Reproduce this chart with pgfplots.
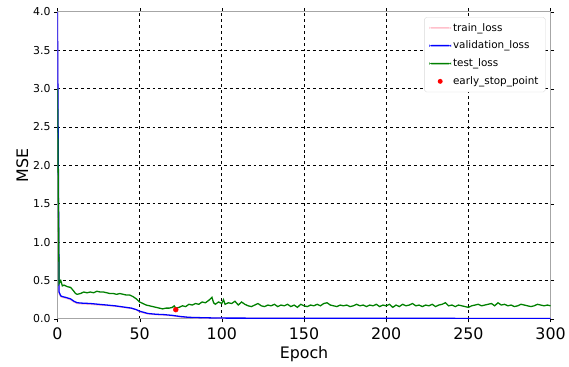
\documentclass[border=0pt]{standalone}
\usepackage{pgfplots}
\pgfplotsset{compat=1.18}
\usepackage{fontspec}
\setmainfont{DejaVu Sans}
\definecolor{mplgreen}{RGB}{0,128,0}
\definecolor{mplpink}{RGB}{255,192,203}
\begin{document}
\begin{tikzpicture}
\begin{axis}[
  scale only axis,
  width=498pt, height=310pt,
  xmin=0, xmax=300, ymin=0, ymax=4,
  xtick={0,50,...,300},
  ytick={0,0.5,...,4},
  yticklabel style={/pgf/number format/fixed,/pgf/number format/fixed zerofill,/pgf/number format/precision=1,font=\fontsize{11}{13}\selectfont},
  xticklabel style={font=\fontsize{16}{18}\selectfont, yshift=-2pt},
  /pgf/number format/assume math mode=true,
  xlabel={Epoch}, ylabel={MSE},
  xlabel style={font=\fontsize{16}{18}\selectfont, yshift=0pt},
  ylabel style={font=\fontsize{16}{18}\selectfont, yshift=-2pt},
  grid=major,
  major grid style={dashed, black, line width=0.8pt},
  axis line style={gray!70, line width=0.8pt},
  tick align=outside, major tick length=3.5pt,
  tick style={black},
  legend style={font=\fontsize{10.5}{12}\selectfont, draw=gray!30, rounded corners=2pt, fill=white, at={(0.99,0.983)}, anchor=north east, row sep=4.5pt, inner xsep=5pt, inner ysep=4pt},
  legend cell align=left,
]
\addlegendimage{legend image code/.code={\path[fill=mplpink, draw=none] (0pt,-0.75pt) rectangle (22pt,0.75pt);}}
\addlegendentry{train\_loss}
\addlegendimage{legend image code/.code={\path[fill=blue, draw=none] (0pt,-0.75pt) rectangle (22pt,0.75pt);}}
\addlegendentry{validation\_loss}
\addlegendimage{legend image code/.code={\path[fill=mplgreen, draw=none] (0pt,-0.75pt) rectangle (22pt,0.75pt);}}
\addlegendentry{test\_loss}
\addlegendimage{legend image code/.code={\path[fill=red, draw=none] (11pt,0pt) circle (2.5pt);}}
\addlegendentry{early\_stop\_point}
\addplot[mplpink, line width=1.3pt, forget plot] coordinates {
(0,4.0)(1,0.33)(2,0.29)(3,0.28)(5,0.27)(8,0.25)(10,0.22)(12,0.20)(15,0.195)(20,0.19)(25,0.18)(30,0.175)(35,0.165)(40,0.15)(45,0.135)(48,0.12)(50,0.09)(55,0.065)(60,0.055)(65,0.05)(70,0.04)(75,0.025)(80,0.018)(90,0.012)(100,0.009)(150,0.006)(200,0.005)(250,0.004)(300,0.004)};
\addplot[blue, line width=1.3pt, forget plot] coordinates {
(0,4.0)(1,0.35)(2,0.30)(3,0.29)(5,0.28)(8,0.26)(10,0.23)(12,0.21)(15,0.205)(20,0.20)(25,0.19)(30,0.18)(35,0.17)(40,0.155)(45,0.14)(48,0.12)(50,0.10)(55,0.07)(60,0.06)(65,0.055)(70,0.045)(75,0.03)(80,0.02)(90,0.014)(100,0.01)(150,0.008)(200,0.007)(250,0.006)(300,0.005)};
\addplot[mplgreen, line width=1.3pt, forget plot] coordinates {
(0,3.0)(1,0.46)(2,0.50)(3,0.43)(4,0.44)(6,0.42)(8,0.41)(10,0.36)(11,0.33)(12,0.32)(14,0.33)(16,0.35)(18,0.34)(20,0.35)(22,0.34)(24,0.36)(26,0.35)(28,0.35)(30,0.34)(32,0.33)(34,0.33)(36,0.32)(38,0.33)(40,0.32)(42,0.31)(44,0.31)(46,0.29)(48,0.26)(50,0.22)(52,0.20)(54,0.18)(56,0.17)(58,0.16)(60,0.15)(62,0.14)(64,0.13)(66,0.14)(68,0.14)(70,0.15)(71,0.17)(72,0.14)(74,0.15)(76,0.17)(78,0.16)(80,0.19)(82,0.18)(84,0.20)(86,0.19)(88,0.22)(90,0.21)(92,0.24)(94,0.28)(95,0.21)(96,0.19)(98,0.22)(100,0.20)(101,0.25)(102,0.19)(104,0.21)(106,0.20)(108,0.23)(110,0.18)(112,0.22)(114,0.19)(116,0.17)(118,0.16)(120,0.18)(122,0.20)(124,0.17)(126,0.16)(128,0.18)(130,0.17)(132,0.19)(134,0.16)(136,0.18)(138,0.17)(140,0.19)(142,0.16)(144,0.18)(146,0.15)(148,0.19)(150,0.17)(152,0.16)(154,0.18)(156,0.17)(158,0.19)(160,0.17)(162,0.20)(164,0.21)(166,0.18)(168,0.17)(170,0.16)(172,0.18)(174,0.17)(176,0.18)(178,0.16)(180,0.17)(182,0.19)(184,0.17)(186,0.18)(188,0.16)(190,0.18)(192,0.17)(194,0.19)(196,0.16)(198,0.18)(200,0.17)(202,0.19)(204,0.15)(206,0.18)(208,0.16)(210,0.19)(212,0.17)(214,0.18)(216,0.20)(218,0.17)(220,0.18)(222,0.16)(224,0.18)(226,0.17)(228,0.19)(230,0.16)(232,0.18)(234,0.19)(236,0.21)(238,0.17)(240,0.18)(242,0.16)(244,0.18)(246,0.17)(248,0.16)(250,0.15)(252,0.17)(254,0.18)(256,0.19)(258,0.17)(260,0.18)(262,0.19)(264,0.20)(266,0.17)(268,0.21)(270,0.18)(272,0.19)(274,0.17)(276,0.18)(278,0.16)(280,0.17)(282,0.19)(284,0.18)(286,0.17)(288,0.16)(290,0.17)(292,0.19)(294,0.18)(296,0.17)(298,0.18)(300,0.17)};
\addplot[only marks, mark=*, red, mark size=2.5pt, forget plot] coordinates {(72,0.12)};
\path (rel axis cs:0,0) ++(-58pt,-48pt) coordinate (bl);
\path (rel axis cs:1,1) ++(13pt,12pt) coordinate (tr);
\end{axis}
\path[use as bounding box] (bl) rectangle (tr);
\end{tikzpicture}
\end{document}
